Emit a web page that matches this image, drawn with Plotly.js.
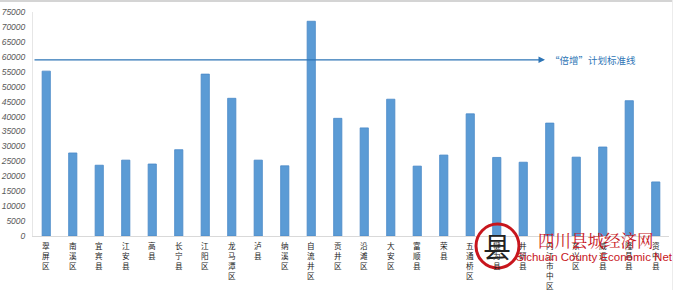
<!DOCTYPE html>
<html><head><meta charset="utf-8">
<script src="https://cdn.plot.ly/plotly-3.0.1.min.js"></script>
<style>
html,body{margin:0;padding:0;background:#fff;}
#wrap{position:relative;width:673px;height:290px;overflow:hidden;}
#chart{width:673px;height:290px;}
#topline{position:absolute;left:0;top:0;width:673px;height:2px;background:#d4d4d4;}
#rightline{position:absolute;right:0;top:0;width:1px;height:290px;background:#ececec;}
</style></head>
<body><div id="wrap"><div id="chart"></div><div id="topline"></div><div id="rightline"></div></div>
<script>
var categories = ["翠屏区","南溪区","宜宾县","江安县","高县","长宁县","江阳区","龙马潭区","泸县","纳溪区","自流井区","贡井区","沿滩区","大安区","富顺县","荣县","五通桥区","犍为县","井研县","内江市中区","东兴区","威远县","隆昌县","资中县"];
var values = [55200,27800,23700,25400,24100,28900,54200,46100,25400,23500,71900,39400,36200,45800,23400,27100,40900,26300,24700,37800,26400,29800,45300,18100];
var planValue = 59000;
var planLabel = "“倍增”计划标准线";
var yTicks = [0,5000,10000,15000,20000,25000,30000,35000,40000,45000,50000,55000,60000,65000,70000,75000];

var xs = categories.map(function(c,i){return i;});
var trace = {
  type:'bar', x: xs, y: values,
  marker:{color:'#5B9BD5', line:{color:'#4A89C8', width:0.8}},
  hoverinfo:'skip'
};

var L=33,R=4,T=12,B=54,W=673,H=290;
function px(x){return (x-L)/(W-L-R);}
function py(y){return 1-(y-T)/(H-T-B);}

var annotations = [];
categories.forEach(function(c,i){
  annotations.push({
    x:i, xref:'x', y:0, yref:'paper', yanchor:'top', xanchor:'center', yshift:-3,
    text: Array.from(c).join('<br>'), showarrow:false, borderpad:0,
    font:{family:'Noto Sans CJK SC', size:7.6, color:'#1a1a1a'}
  });
});
// plan line with arrow
annotations.push({
  x:18.82, y:planValue, xref:'x', yref:'y', ax:-0.5, ay:planValue, axref:'x', ayref:'y',
  text:'', showarrow:true, arrowhead:2, arrowsize:1, arrowwidth:1.3, arrowcolor:'#2E75B6', standoff:0
});
annotations.push({
  x:18.95, y:planValue, xref:'x', yref:'y', xanchor:'left', yanchor:'middle',
  text:planLabel, showarrow:false,
  font:{family:'Noto Sans CJK SC', size:9.5, color:'#2E75B6'}
});
// watermark
annotations.push({
  x:px(596), y:py(240), xref:'paper', yref:'paper', text:'四川县城经济网', showarrow:false,
  xanchor:'center', yanchor:'middle', borderpad:0,
  font:{family:'Noto Serif CJK SC, Noto Sans CJK SC', size:16.5, color:'#c8161d'}
});
annotations.push({
  x:px(594), y:py(257), xref:'paper', yref:'paper', text:'Sichuan County Economic Net', showarrow:false,
  xanchor:'center', yanchor:'middle', borderpad:0,
  font:{family:'Liberation Sans', size:11.5, color:'#c8161d'}
});
annotations.push({
  x:px(497), y:py(246), xref:'paper', yref:'paper', text:'县', showarrow:false,
  xanchor:'center', yanchor:'middle', borderpad:0,
  font:{family:'Noto Sans CJK SC', size:28, color:'#222'}
});

var layout = {
  width:W, height:H,
  margin:{l:L, r:R, t:T, b:B, pad:0},
  paper_bgcolor:'#fff', plot_bgcolor:'#fff',
  bargap:0.69, showlegend:false,
  xaxis:{type:'linear', range:[-0.5, categories.length-0.5], showticklabels:false, ticks:'',
    showgrid:false, zeroline:false, showline:true, linecolor:'#d9d9d9', linewidth:1},
  yaxis:{range:[0,75000], tickvals:yTicks, ticktext:yTicks.map(String), showgrid:false, zeroline:false,
    showline:true, linecolor:'#e6e6e6', linewidth:1, ticks:'', ticklabelstandoff:5,
    tickfont:{family:'Liberation Sans', size:8.5, color:'#595959', style:'italic'}},
  shapes:[{type:'circle', xref:'paper', yref:'paper', x0:px(476), x1:px(519), y0:py(268), y1:py(224),
    line:{color:'#c8161d', width:3}, fillcolor:'rgba(0,0,0,0)', layer:'above'}],
  annotations: annotations
};
Plotly.newPlot('chart',[trace],layout,{displayModeBar:false, staticPlot:true});
</script></body></html>
